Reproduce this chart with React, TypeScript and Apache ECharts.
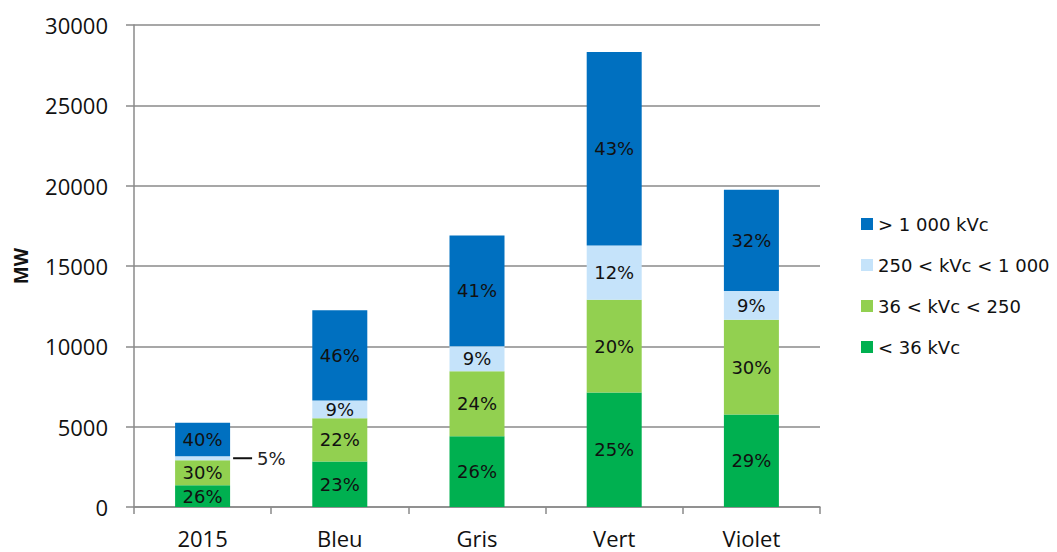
import React, { useEffect, useRef } from "react";
import * as echarts from "echarts";

// Scenarios on the x axis
const categories = ["2015", "Bleu", "Gris", "Vert", "Violet"];

// Installed capacity (MW) by connection voltage band
const below36 = [1350, 2830, 4400, 7120, 5760];
const from36to250 = [1560, 2700, 4050, 5780, 5900];
const from250to1000 = [250, 1100, 1550, 3370, 1780];
const above1000 = [2090, 5610, 6900, 12050, 6300];

const seriesNames = ["< 36 kVc", "36 < kVc < 250", "250 < kVc < 1 000", "> 1 000 kVc"];
const seriesColors = ["#00B050", "#92D050", "#C5E3FA", "#0070C0"];
const seriesValues = [below36, from36to250, from250to1000, above1000];

const yTicks = { min: 0, max: 30000, interval: 5000 };

const totals = categories.map((_, i) =>
  seriesValues.reduce((s, arr) => s + arr[i], 0)
);

const pct = (v: number, i: number) => Math.round((v / totals[i]) * 100) + "%";

const labelFont = "DejaVu Sans";
const axisFont = "Open Sans";

export default function App() {
  const ref = useRef<HTMLDivElement>(null);

  useEffect(() => {
    if (!ref.current) return;
    const chart = echarts.init(ref.current, null, { renderer: "svg" });

    const series = seriesValues.map((vals, si) => ({
      name: seriesNames[si],
      type: "bar",
      stack: "total",
      barWidth: 55,
      itemStyle: { color: seriesColors[si] },
      label: {
        show: true,
        position: "inside",
        color: "#111",
        fontFamily: labelFont,
        fontSize: 18,
        formatter: (p: any) => pct(p.value, p.dataIndex),
      },
      data: vals.map((v, i) => {
        // The thin 250–1 000 slice of 2015 gets its label outside with a leader
        if (si === 2 && i === 0) {
          return {
            value: v,
            label: {
              position: "right",
              distance: 3,
              formatter: (p: any) => "{l|}{t|" + pct(p.value, p.dataIndex) + "}",
              rich: {
                l: { width: 19, height: 2, backgroundColor: "#111" },
                t: {
                  fontFamily: labelFont,
                  fontSize: 18,
                  color: "#222",
                  padding: [0, 0, 0, 5],
                },
              },
            },
          };
        }
        return v;
      }),
    }));

    chart.setOption({
      animation: false,
      backgroundColor: "#ffffff",
      grid: { left: 134, top: 25, right: 237, bottom: 45, containLabel: false },
      legend: {
        orient: "vertical",
        left: 856,
        top: 209,
        data: [...seriesNames].reverse(),
        itemWidth: 12,
        itemHeight: 12,
        itemGap: 21,
        icon: "rect",
        textStyle: {
          fontFamily: labelFont,
          fontSize: 18,
          color: "#111",
          lineHeight: 20,
        },
      },
      xAxis: {
        type: "category",
        data: categories,
        axisLine: { lineStyle: { color: "#8a8a8a", width: 1.5 } },
        axisTick: { show: true, length: 7, lineStyle: { color: "#8a8a8a", width: 1.5 } },
        axisLabel: {
          color: "#111",
          fontFamily: axisFont,
          fontSize: 22,
          margin: 20,
        },
      },
      yAxis: {
        type: "value",
        min: yTicks.min,
        max: yTicks.max,
        interval: yTicks.interval,
        name: "MW",
        nameLocation: "middle",
        nameGap: 104,
        nameTextStyle: {
          fontFamily: axisFont,
          fontSize: 19,
          fontWeight: "bold",
          color: "#111",
        },
        axisLine: { show: true, lineStyle: { color: "#8a8a8a", width: 1.5 } },
        axisTick: { show: true, length: 8, lineStyle: { color: "#8a8a8a", width: 1.5 } },
        splitLine: { lineStyle: { color: "#8a8a8a", width: 1.5 } },
        axisLabel: {
          color: "#111",
          fontFamily: axisFont,
          fontSize: 22,
          margin: 26,
          formatter: (v: number) => String(v),
        },
      },
      series,
    });

    return () => chart.dispose();
  }, []);

  return (
    <div
      ref={ref}
      style={{ position: "fixed", left: 0, top: 0, width: 1057, height: 552 }}
    />
  );
}
